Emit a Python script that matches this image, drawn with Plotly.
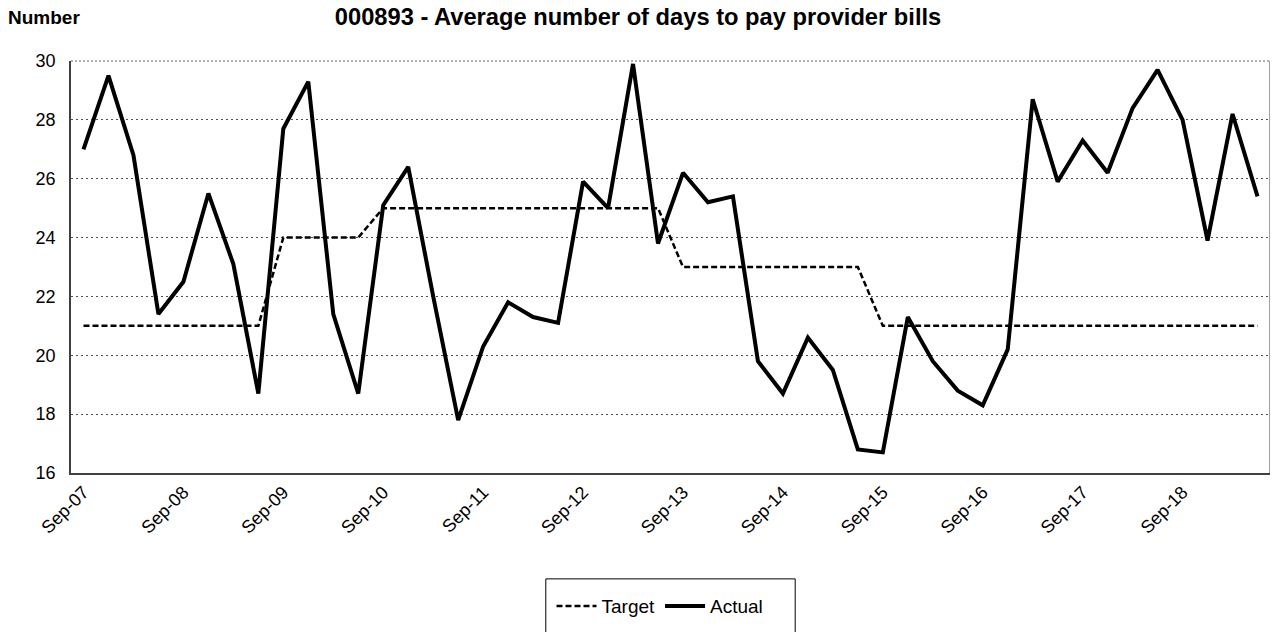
import plotly.graph_objects as go

periods = ["Sep-07", "Dec-07", "Mar-08", "Jun-08",
           "Sep-08", "Dec-08", "Mar-09", "Jun-09",
           "Sep-09", "Dec-09", "Mar-10", "Jun-10",
           "Sep-10", "Dec-10", "Mar-11", "Jun-11",
           "Sep-11", "Dec-11", "Mar-12", "Jun-12",
           "Sep-12", "Dec-12", "Mar-13", "Jun-13",
           "Sep-13", "Dec-13", "Mar-14", "Jun-14",
           "Sep-14", "Dec-14", "Mar-15", "Jun-15",
           "Sep-15", "Dec-15", "Mar-16", "Jun-16",
           "Sep-16", "Dec-16", "Mar-17", "Jun-17",
           "Sep-17", "Dec-17", "Mar-18", "Jun-18",
           "Sep-18", "Dec-18", "Mar-19", "Jun-19"]

target = [21, 21, 21, 21, 21, 21, 21, 21,
          24, 24, 24, 24,
          25, 25, 25, 25, 25, 25, 25, 25, 25, 25, 25, 25,
          23, 23, 23, 23, 23, 23, 23, 23,
          21, 21, 21, 21, 21, 21, 21, 21, 21, 21, 21, 21, 21, 21, 21, 21]

actual = [27.0, 29.5, 26.8, 21.4, 22.5, 25.5, 23.1, 18.7,
          27.7, 29.3, 21.4, 18.7, 25.1, 26.4, 22.0, 17.8,
          20.3, 21.8, 21.3, 21.1, 25.9, 25.0, 29.9, 23.8,
          26.2, 25.2, 25.4, 19.8, 18.7, 20.6, 19.5, 16.8,
          16.7, 21.3, 19.8, 18.8, 18.3, 20.2, 28.7, 25.9,
          27.3, 26.2, 28.4, 29.7, 28.0, 23.9, 28.2, 25.4]

tick_labels = periods[::4]

FONT = "Arial, Liberation Sans, sans-serif"

fig = go.Figure()
fig.add_trace(go.Scatter(x=periods, y=target, name="Target", mode="lines",
                         line=dict(color="black", width=2.5, dash="6px,3px")))
fig.add_trace(go.Scatter(x=periods, y=actual, name="Actual", mode="lines",
                         line=dict(color="black", width=4)))

fig.update_layout(
    width=1278, height=632,
    margin=dict(l=63, r=16, t=53, b=167),
    paper_bgcolor="white", plot_bgcolor="white",
    font=dict(family=FONT, size=18, color="black"),
    title=dict(text="<b>000893 - Average number of days to pay provider bills</b>",
               x=630 / 1278, xref="container", xanchor="center",
               y=1, yref="container", yanchor="top", pad=dict(t=0, b=0),
               font=dict(family=FONT, size=23.7, color="black")),
    showlegend=True,
    legend=dict(orientation="h", x=(652 - 63) / 1199, xanchor="center", y=-0.323,
                yanchor="middle", itemwidth=40,
                font=dict(family=FONT, size=19, color="black"),
                bgcolor="rgba(0,0,0,0)", borderwidth=0),
    shapes=[
        dict(type="rect", xref="paper", yref="paper", x0=0.396, x1=0.604,
             y0=-0.257, y1=-0.45, line=dict(color="black", width=1)),
        dict(type="line", xref="paper", yref="paper", x0=1, x1=1, y0=0, y1=1,
             line=dict(color="#808080", width=1.5)),
        dict(type="line", xref="paper", yref="paper", x0=0, x1=1, y0=1, y1=1,
             line=dict(color="#606060", width=1, dash="2px,2px")),
    ],
    annotations=[
        dict(text="<b>Number</b>", xref="paper", yref="paper", x=(-2 - 63) / 1199,
             y=(465 - 9) / 412, xanchor="left", yanchor="middle", showarrow=False,
             font=dict(family=FONT, size=19, color="black")),
    ],
)

fig.update_xaxes(
    type="category", range=[-0.5, len(periods) - 0.5],
    tickmode="array", tickvals=tick_labels, ticktext=tick_labels,
    tickangle=-45, showgrid=False, showline=True, linecolor="#404040", linewidth=1.5,
    ticks="", tickfont=dict(family=FONT, size=18, color="black"),
)
fig.update_yaxes(
    range=[16, 30], dtick=2, tick0=16, showgrid=True, gridcolor="#505050",
    griddash="2px,3px", gridwidth=1, showline=True, linecolor="#404040", linewidth=1.5,
    ticks="", ticklabelstandoff=10, zeroline=False,
    tickfont=dict(family=FONT, size=18, color="black"),
)

fig.write_html("out.html")
